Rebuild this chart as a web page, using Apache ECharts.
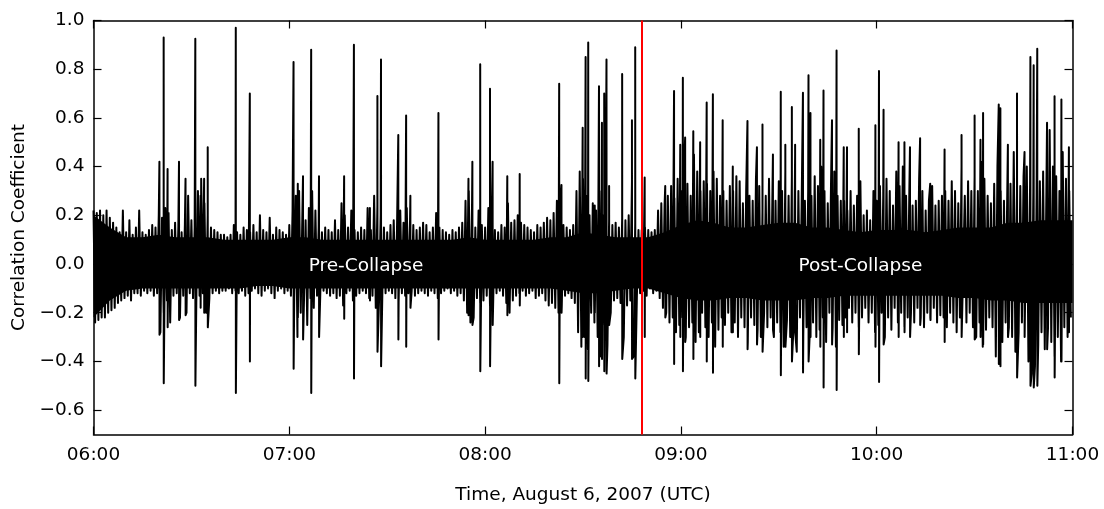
<!DOCTYPE html>
<html><head><meta charset="utf-8">
<script src="https://cdn.jsdelivr.net/npm/echarts@6/dist/echarts.min.js"></script>
<style>html,body{margin:0;padding:0;background:#fff}#c{width:1104px;height:509px}</style>
</head><body><div id="c"></div>
<script>
// minutes after 06:00 UTC; upper / lower tips of the dense band, one value per minute
const minuteTop = [
 .22,.21,.22,.20,.22,.19,.17,.15,.13,.22,
 .13,.18,.12,.15,.22,.13,.12,.14,.16,.15,
 .20,.19,.23,.21,.14,.17,.15,.13,.16,.28,
 .18,.15,.30,.35,.25,.20,.15,.14,.13,.12,
 .12,.11,.12,.16,.13,.12,.15,.14,.13,.16,
 .13,.20,.14,.13,.19,.12,.15,.14,.13,.12,
 .16,.22,.28,.30,.20,.18,.23,.30,.22,.15,
 .13,.15,.14,.13,.18,.14,.25,.20,.15,.22,
 .14,.13,.15,.14,.23,.14,.28,.24,.20,.15,
 .13,.16,.18,.14,.22,.17,.23,.18,.16,.14,
 .15,.17,.16,.13,.15,.21,.15,.14,.13,.12,
 .14,.13,.15,.17,.26,.30,.25,.15,.22,.16,
 .15,.23,.17,.14,.13,.16,.15,.25,.17,.18,
 .20,.17,.16,.15,.14,.13,.16,.15,.17,.19,
 .18,.21,.26,.24,.16,.15,.14,.16,.30,.38,
 .35,.28,.20,.25,.22,.30,.20,.35,.18,.16,
 .17,.15,.19,.18,.20,.34,.17,.14,
 .14,.15,
 .14,.13,.14,.22,.25,.24,.28,.32,.27,.35,
 .30,.40,.33,.28,.45,.38,.30,.34,.33,.30,
 .38,.35,.28,.30,.26,.32,.30,.36,.34,.25,
 .30,.28,.26,.35,.32,.22,.28,.35,.24,.26,
 .34,.30,.38,.28,.36,.45,.30,.24,.26,.30,
 .28,.36,.32,.40,.30,.25,.33,.38,.28,.26,
 .26,.22,.30,.24,.28,.34,.20,.22,.18,.30,
 .26,.32,.28,.35,.30,.24,.38,.32,.40,.28,
 .30,.24,.26,.35,.30,.22,.26,.32,.24,.26,
 .28,.30,.26,.34,.30,.25,.40,.28,.34,.30,
 .36,.30,.42,.35,.28,.25,.33,.40,.30,.26,
 .28,.33,.46,.30,.32,.36,.40,.33,.30,.28,
 .34,.38,.30,.55,.40,.36,.30,.46,.35,.30
];
const minuteBottom = [
 -.24,-.23,-.22,-.22,-.20,-.19,-.18,-.16,-.15,-.14,
 -.13,-.15,-.12,-.12,-.13,-.11,-.12,-.11,-.13,-.12,
 -.28,-.20,-.15,-.24,-.13,-.12,-.22,-.13,-.20,-.12,
 -.14,-.16,-.13,-.12,-.20,-.14,-.12,-.11,-.12,-.11,
 -.11,-.10,-.12,-.11,-.12,-.11,-.13,-.12,-.11,-.10,
 -.12,-.13,-.11,-.10,-.12,-.14,-.11,-.10,-.12,-.11,
 -.13,-.15,-.30,-.20,-.15,-.25,-.14,-.18,-.13,-.12,
 -.11,-.12,-.13,-.12,-.14,-.13,-.17,-.12,-.11,-.15,
 -.13,-.12,-.11,-.12,-.14,-.13,-.18,-.15,-.13,-.12,
 -.11,-.12,-.14,-.16,-.12,-.13,-.12,-.11,-.13,-.12,
 -.11,-.12,-.13,-.11,-.12,-.14,-.12,-.11,-.10,-.12,
 -.11,-.13,-.12,-.15,-.20,-.24,-.22,-.14,-.16,-.15,
 -.13,-.17,-.14,-.12,-.11,-.13,-.16,-.20,-.15,-.13,
 -.12,-.11,-.13,-.12,-.11,-.14,-.13,-.12,-.15,-.17,
 -.16,-.18,-.20,-.17,-.13,-.12,-.14,-.16,-.28,-.34,
 -.30,-.35,-.20,-.24,-.30,-.38,-.25,-.33,-.20,-.15,
 -.14,-.16,-.30,-.17,-.15,-.38,-.14,-.12,
 -.11,-.13,
 -.10,-.12,-.11,-.14,-.18,-.20,-.24,-.22,-.28,-.25,
 -.22,-.30,-.26,-.24,-.32,-.28,-.20,-.26,-.30,-.24,
 -.34,-.27,-.22,-.25,-.20,-.28,-.24,-.30,-.22,-.26,
 -.32,-.22,-.25,-.27,-.30,-.20,-.26,-.22,-.30,-.24,
 -.28,-.34,-.23,-.30,-.26,-.36,-.22,-.30,-.26,-.28,
 -.24,-.30,-.27,-.22,-.32,-.20,-.26,-.34,-.23,-.25,
 -.22,-.18,-.24,-.20,-.26,-.22,-.18,-.24,-.20,-.28,
 -.25,-.20,-.30,-.22,-.27,-.18,-.24,-.20,-.26,-.22,
 -.20,-.24,-.18,-.22,-.26,-.20,-.23,-.18,-.24,-.21,
 -.22,-.26,-.20,-.24,-.28,-.22,-.30,-.24,-.20,-.26,
 -.30,-.24,-.34,-.27,-.22,-.26,-.38,-.28,-.32,-.24,
 -.26,-.30,-.36,-.28,-.24,-.30,-.40,-.45,-.42,-.33,
 -.28,-.35,-.26,-.32,-.38,-.30,-.40,-.26,-.30,-.22
];
// solid core of the band, read every 5 minutes (06:00 .. 11:00)
const coreTime = [0,5,10,15,20,25,30,35,40,45,50,55,60,65,70,75,80,85,90,95,100,105,110,115,120,125,130,135,140,145,150,155,160,165,170,175,180,185,190,195,200,205,210,215,220,225,230,235,240,245,250,255,260,265,270,275,280,285,290,295,300];
const coreTop = [.20,.15,.11,.11,.12,.11,.11,.11,.10,.10,.10,.10,.11,.11,.10,.10,.10,.10,.10,.10,.10,.10,.10,.11,.10,.10,.10,.10,.11,.11,.13,.12,.11,.11,.11,
 .13,.16,.18,.17,.15,.15,.16,.17,.17,.15,.15,.14,.13,.14,.14,.14,.13,.14,.15,.15,.15,.17,.17,.18,.18,.18];
const coreBottom = [-.22,-.15,-.11,-.10,-.10,-.10,-.10,-.10,-.10,-.10,-.09,-.09,-.10,-.10,-.10,-.10,-.10,-.10,-.10,-.10,-.10,-.10,-.10,-.10,-.10,-.10,-.10,-.10,-.10,-.11,-.12,-.12,-.11,-.10,-.10,
 -.12,-.14,-.15,-.15,-.14,-.14,-.15,-.15,-.15,-.14,-.14,-.13,-.13,-.13,-.13,-.13,-.13,-.13,-.14,-.14,-.15,-.15,-.16,-.16,-.16,-.16];
// isolated spikes: time (minutes after 06:00), peak and trough
const spikeTime = [20.2,21.5,22.7,26.2,28.2,31.2,32.8,33.9,35.0,43.6,47.9,61.3,62.6,64.2,66.7,69.1,76.8,79.8,84.7,87.0,88.1,93.4,95.8,97.1,105.7,114.9,116.1,118.5,121.5,122.3,126.8,130.6,142.7,143.4,149.9,150.8,151.6,153.6,154.9,155.8,156.5,157.2,158.0,162.0,165.0,166.0,168.9,
 175.2,177.9,179.8,180.6,181.3,183.8,185.9,187.9,189.8,192.8,195.9,200.4,203.3,205.0,208.2,210.6,212.0,214.0,215.0,217.4,219.1,219.7,222.7,223.7,226.3,227.7,229.9,230.9,234.5,239.6,240.7,242.1,246.7,248.5,250.2,253.3,256.4,260.8,266.0,270.0,271.8,272.6,277.4,277.9,280.2,283.0,285.3,287.1,288.1,289.2,292.2,294.5,296.6,298.9];
const spikeHigh = [.42,.93,.39,.42,.35,.925,.28,.35,.48,.97,.70,.83,.33,.36,.88,.36,.36,.90,.23,.69,.84,.53,.61,.28,.62,.35,.42,.82,.72,.42,.36,.37,.74,.325,.56,.85,.91,.24,.73,.58,.70,.84,.32,.78,.59,.89,.355,
 .32,.71,.49,.765,.52,.545,.50,.663,.697,.59,.40,.587,.48,.573,.45,.707,.49,.645,.49,.703,.775,.62,.51,.713,.59,.877,.48,.48,.555,.57,.793,.634,.50,.50,.48,.516,.33,.47,.53,.61,.51,.62,.655,.64,.49,.70,.46,.85,.816,.884,.58,.689,.676,.48];
const spikeLow = [-.29,-.49,-.26,-.23,-.21,-.50,-.18,-.20,-.26,-.53,-.40,-.43,-.22,-.31,-.53,-.30,-.225,-.47,-.15,-.36,-.42,-.31,-.34,-.18,-.31,-.21,-.25,-.44,-.42,-.25,-.21,-.17,-.49,-.20,-.30,-.47,-.48,-.20,-.42,-.39,-.44,-.45,-.25,-.39,-.39,-.47,-.30,
 -.22,-.41,-.30,-.44,-.32,-.39,-.30,-.40,-.446,-.34,-.28,-.35,-.33,-.36,-.27,-.457,-.34,-.40,-.28,-.445,-.40,-.30,-.34,-.507,-.33,-.517,-.30,-.28,-.37,-.34,-.484,-.33,-.30,-.28,-.30,-.25,-.22,-.32,-.30,-.31,-.30,-.33,-.41,-.42,-.30,-.466,-.30,-.50,-.507,-.50,-.35,-.466,-.40,-.28];
const collapseTime = 168; // 08:48
const xTickLabels = ['06:00','07:00','08:00','09:00','10:00','11:00'];
const yTicks = [-0.6,-0.4,-0.2,0.0,0.2,0.4,0.6,0.8,1.0];
const yTickLabels = ['\u22120.6','\u22120.4','\u22120.2','0.0','0.2','0.4','0.6','0.8','1.0'];
const annotTime = [83.5, 235];
const annotValue = [0, 0];
const annotText = ['Pre-Collapse','Post-Collapse'];

const FONT = 'DejaVu Sans';
const pts = [];
for (let i = 0; i < minuteTop.length; i++) {
  pts.push([i, minuteTop[i]]);
  pts.push([i + 0.5, minuteBottom[i]]);
}
for (let k = 0; k < spikeTime.length; k++) {
  pts.push([spikeTime[k], spikeHigh[k]]);
  pts.push([spikeTime[k] + 0.03, spikeLow[k]]);
}
pts.sort((a, b) => a[0] - b[0]);

const yFmt = v => {
  for (let i = 0; i < yTicks.length; i++) if (Math.abs(v - yTicks[i]) < 1e-6) return yTickLabels[i];
  return '';
};
const axisLine = {show: true, onZero: false, lineStyle: {color: '#000', width: 1.5}};
const tick = {show: true, inside: true, length: 8, lineStyle: {color: '#000', width: 1.2}};
const lbl = {color: '#000', fontSize: 18.5, fontFamily: FONT};

const chart = echarts.init(document.getElementById('c'), null, {renderer: 'canvas'});
chart.setOption({
  animation: false,
  backgroundColor: '#fff',
  textStyle: {fontFamily: FONT},
  grid: {left: 93.5, right: 31.5, top: 20.5, bottom: 74.5, containLabel: false, outerBoundsMode: 'none'},
  xAxis: [
    {type: 'value', min: 0, max: 300, interval: 60, position: 'bottom',
     axisLine, axisTick: tick, splitLine: {show: false},
     axisLabel: Object.assign({margin: 11, formatter: v => xTickLabels[Math.round(v / 60)]}, lbl),
     name: 'Time, August 6, 2007 (UTC)', nameLocation: 'middle', nameGap: 51,
     nameTextStyle: Object.assign({}, lbl)},
    {type: 'value', min: 0, max: 300, interval: 60, position: 'top',
     axisLine, axisTick: tick, splitLine: {show: false}, axisLabel: {show: false}}
  ],
  yAxis: [
    {type: 'value', min: -0.7, max: 1.0, position: 'left',
     axisLine, axisTick: Object.assign({customValues: yTicks}, tick), splitLine: {show: false},
     axisLabel: Object.assign({margin: 9, customValues: yTicks, formatter: yFmt}, lbl),
     name: 'Correlation Coefficient', nameLocation: 'middle', nameGap: 59, nameRotate: 90,
     nameTextStyle: Object.assign({}, lbl)},
    {type: 'value', min: -0.7, max: 1.0, position: 'right',
     axisLine, axisTick: Object.assign({customValues: yTicks}, tick), splitLine: {show: false},
     axisLabel: {show: false}}
  ],
  series: [
    {type: 'custom', xAxisIndex: 0, yAxisIndex: 0, silent: true, z: 1,
     data: [[0, 0]],
     renderItem: (params, api) => {
       const p = [];
       for (let i = 0; i < coreTime.length; i++) p.push(api.coord([coreTime[i], coreTop[i]]));
       for (let i = coreTime.length - 1; i >= 0; i--) p.push(api.coord([coreTime[i], coreBottom[i]]));
       return {type: 'polygon', shape: {points: p}, style: {fill: '#000'}};
     }},
    {type: 'line', data: pts, xAxisIndex: 0, yAxisIndex: 0, symbol: 'none', showSymbol: false,
     sampling: null, silent: true, z: 2,
     lineStyle: {color: '#000', width: 2, join: 'round'},
     markLine: {silent: true, symbol: ['none', 'none'], label: {show: false}, animation: false,
       lineStyle: {color: '#ff0000', width: 2, type: 'solid'},
       emphasis: {disabled: true},
       data: [{xAxis: collapseTime}]}},
    {type: 'scatter', xAxisIndex: 0, yAxisIndex: 0, z: 10, zlevel: 0, silent: true,
     symbolSize: 1, itemStyle: {color: 'rgba(0,0,0,0)'},
     data: annotTime.map((t, i) => [t, annotValue[i]]),
     label: {show: true, position: 'inside', offset: [0, 2], color: '#ffffff', opacity: 1, fontSize: 18.5, fontFamily: FONT,
       formatter: p => annotText[p.dataIndex]}}
  ]
});
</script></body></html>
